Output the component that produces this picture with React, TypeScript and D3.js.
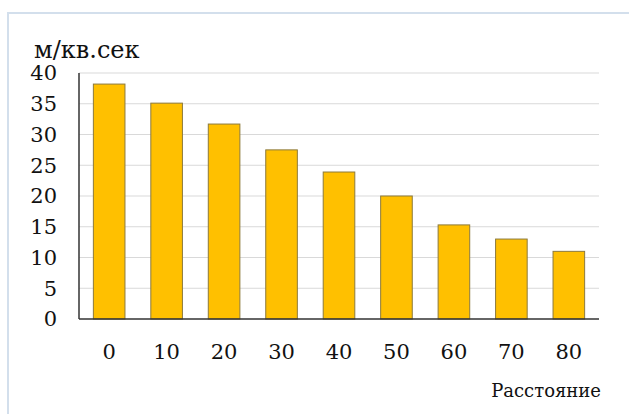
import React from "react";
import * as d3 from "d3";

const categories = ["0", "10", "20", "30", "40", "50", "60", "70", "80"];
const values = [38.2, 35.1, 31.7, 27.5, 23.9, 20.0, 15.3, 13.0, 11.0];
const yTicks = [0, 5, 10, 15, 20, 25, 30, 35, 40];
const yTitle = "м/кв.сек";
const xTitle = "Расстояние";

export default function App() {
  const W = 629, H = 414;
  const left = 79, right = 599, top = 73, bottom = 319;
  const x = d3.scaleBand<string>().domain(categories).range([left, right]).paddingInner(0.45).paddingOuter(0.25);
  const y = d3.scaleLinear().domain([0, 40]).range([bottom, top]);
  const font = "DejaVu Serif";
  return (
    <svg width={W} height={H} style={{ position: "absolute", left: 0, top: 0, background: "#fff" }}>
      <rect x={8} y={13} width={W} height={H} fill="none" stroke="#d3dfec" strokeWidth={2} />
      {yTicks.map((t) => (
        <g key={t}>
          {t > 0 && <line x1={left} x2={right} y1={y(t)} y2={y(t)} stroke="#d9d9d9" strokeWidth={1} />}
          <text x={57} y={y(t)} dy="0.35em" textAnchor="end" fontFamily={font} fontSize={21} fill="#111">{t}</text>
        </g>
      ))}
      {categories.map((c, i) => (
        <g key={c}>
          <rect x={x(c)!} y={y(values[i])} width={x.bandwidth()} height={y(0) - y(values[i])} fill="#FFC000" stroke="#8c7a3c" strokeWidth={1} />
          <text x={x(c)! + x.bandwidth() / 2} y={359} textAnchor="middle" fontFamily={font} fontSize={21} fill="#111">{c}</text>
        </g>
      ))}
      <line x1={left} x2={left} y1={top} y2={bottom} stroke="#333" strokeWidth={1.5} />
      <line x1={left} x2={right} y1={bottom} y2={bottom} stroke="#333" strokeWidth={1.5} />
      <text x={34} y={58} fontFamily={font} fontSize={24} fill="#111">{yTitle}</text>
      <text x={601} y={397} textAnchor="end" fontFamily={font} fontSize={18} fill="#111">{xTitle}</text>
    </svg>
  );
}
